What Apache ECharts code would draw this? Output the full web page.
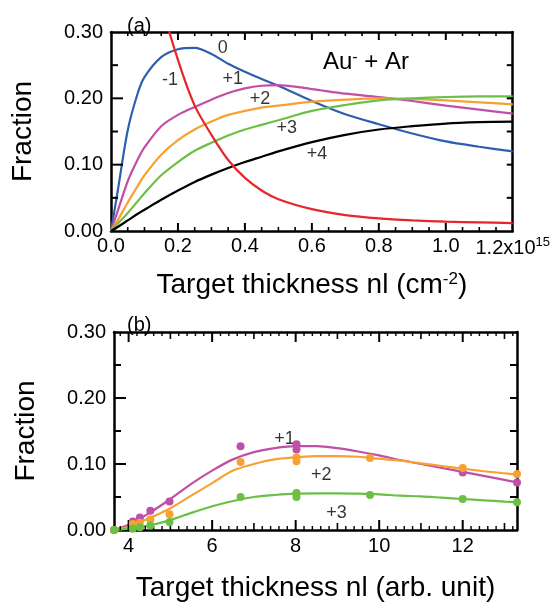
<!DOCTYPE html>
<html><head><meta charset="utf-8">
<script src="https://cdn.jsdelivr.net/npm/echarts@6/dist/echarts.min.js"></script>
<style>html,body{margin:0;padding:0;background:#fff}#c{width:553px;height:603px}</style>
</head><body><div id="c"></div><script>
// ---------- Panel (a) data ----------
const xA = [0, 0.02, 0.05, 0.08, 0.1, 0.15, 0.2, 0.25, 0.3, 0.35, 0.4, 0.45, 0.5, 0.6, 0.7, 0.8, 0.9, 1.0, 1.1, 1.2];
const aMinus1 = [0.87, 0.77, 0.64, 0.53, 0.47, 0.345, 0.258, 0.189, 0.145, 0.107, 0.080, 0.061, 0.048, 0.033, 0.024, 0.019, 0.016, 0.014, 0.013, 0.012];
const aZero   = [0, 0.06, 0.152, 0.208, 0.232, 0.262, 0.274, 0.276, 0.267, 0.252, 0.240, 0.229, 0.219, 0.196, 0.176, 0.161, 0.147, 0.135, 0.127, 0.120];
const aPlus1  = [0, 0.03, 0.075, 0.108, 0.126, 0.158, 0.175, 0.187, 0.198, 0.208, 0.215, 0.219, 0.220, 0.214, 0.207, 0.202, 0.196, 0.189, 0.183, 0.177];
const aPlus2  = [0, 0.016, 0.043, 0.068, 0.084, 0.115, 0.137, 0.153, 0.165, 0.175, 0.181, 0.186, 0.189, 0.195, 0.198, 0.200, 0.199, 0.197, 0.194, 0.191];
const aPlus3  = [0, 0.011, 0.027, 0.045, 0.057, 0.084, 0.104, 0.121, 0.133, 0.144, 0.153, 0.160, 0.167, 0.181, 0.190, 0.197, 0.200, 0.202, 0.203, 0.203];
const aPlus4  = [0, 0.006, 0.016, 0.026, 0.032, 0.047, 0.061, 0.074, 0.085, 0.095, 0.104, 0.112, 0.120, 0.134, 0.145, 0.153, 0.158, 0.162, 0.164, 0.165];
const aLabels = [
  {name: '0',  x: 0.334, y: 0.276},
  {name: '-1', x: 0.176, y: 0.228},
  {name: '+1', x: 0.364, y: 0.229},
  {name: '+2', x: 0.445, y: 0.199},
  {name: '+3', x: 0.525, y: 0.155},
  {name: '+4', x: 0.615, y: 0.116}
];
const aXMajor = [0.2, 0.4, 0.6, 0.8, 1.0];
const aXMinor = [0.05, 0.1, 0.15, 0.25, 0.3, 0.35, 0.45, 0.5, 0.55, 0.65, 0.7, 0.75, 0.85, 0.9, 0.95, 1.05, 1.1, 1.15];
const yMajor = [0.1, 0.2];
const yMinor = [0.05, 0.15, 0.25];

// ---------- Panel (b) data ----------
const xB = [3.65, 4, 4.5, 5, 5.5, 6, 6.5, 7, 7.5, 8, 8.5, 9, 9.5, 10, 10.5, 11, 11.5, 12, 12.5, 13, 13.3];
const bFit1 = [0, 0.008, 0.026, 0.047, 0.070, 0.090, 0.107, 0.118, 0.124, 0.127, 0.127, 0.124, 0.119, 0.113, 0.106, 0.100, 0.094, 0.088, 0.082, 0.076, 0.072];
const bFit2 = [0, 0.005, 0.018, 0.033, 0.052, 0.071, 0.090, 0.100, 0.107, 0.110, 0.112, 0.112, 0.111, 0.108, 0.105, 0.101, 0.097, 0.093, 0.089, 0.086, 0.084];
const bFit3 = [0, 0.002, 0.007, 0.015, 0.026, 0.036, 0.044, 0.050, 0.053, 0.055, 0.0555, 0.0555, 0.055, 0.054, 0.052, 0.051, 0.049, 0.047, 0.045, 0.043, 0.042];
const bPtsX1 = [3.65, 4.1, 4.27, 4.52, 4.98, 6.68, 8.02, 8.02, 12.0, 13.3];
const bPts1  = [0, 0.013, 0.019, 0.029, 0.043, 0.127, 0.130, 0.122, 0.087, 0.072];
const bPtsX2 = [3.65, 4.1, 4.27, 4.52, 4.98, 6.68, 8.02, 8.02, 9.78, 12.0, 13.3];
const bPts2  = [0, 0.009, 0.011, 0.016, 0.024, 0.103, 0.110, 0.104, 0.109, 0.094, 0.085];
const bPtsX3 = [3.65, 4.1, 4.27, 4.52, 4.98, 6.68, 8.02, 8.02, 9.78, 12.0, 13.3];
const bPts3  = [0, 0.002, 0.004, 0.007, 0.012, 0.050, 0.056, 0.050, 0.053, 0.047, 0.042];
const bLabels = [
  {name: '+1', x: 7.73, y: 0.138},
  {name: '+2', x: 8.61, y: 0.083},
  {name: '+3', x: 8.98, y: 0.025}
];
const bXMajor = [4, 6, 8, 10, 12];
const bXMedium = [5, 7, 9, 11, 13];
const bXMin = 3.65, bXMax = 13.3;
const bXMinor = [];
for (let k = 19; k <= 66; k++) { if (k % 5 !== 0) bXMinor.push(k / 5); }

// ---------- Styles ----------
const F = "'Liberation Sans', Arial, sans-serif";
const C = {red: '#e5262b', blue: '#2e5fae', mag: '#c04fa8', org: '#f7a132', grn: '#6cbf45', blk: '#000000'};
const axLine = () => ({show: true, onZero: false, lineStyle: {color: '#000', width: 2.5}});
const off = () => ({show: false});
const GA = {left: 111, top: 32, width: 402, height: 199};
const GB = {left: 114, top: 332, width: 403, height: 198};

function pairs(xs, ys) { return xs.map((x, i) => [x, ys[i]]); }

const xAxes = [
  {gridIndex: 0, type: 'value', position: 'bottom', min: 0, max: 1.2, interval: 0.2,
   axisLine: axLine(), axisTick: off(), splitLine: off(),
   axisLabel: {show: true, margin: 5, fontSize: 20, fontFamily: F, color: '#000',
     formatter: v => Math.abs(v - 1.2) < 1e-6 ? '{m|1.2x10}{s|15}' : v.toFixed(1),
     rich: {m: {fontSize: 20, fontFamily: F, color: '#000', lineHeight: 24}, s: {fontSize: 13, fontFamily: F, color: '#000', verticalAlign: 'top', lineHeight: 14}}},
   name: 'Target thickness nl (cm{s|-2})', nameLocation: 'middle', nameGap: 40,
   nameTextStyle: {fontSize: 28, fontFamily: F, color: '#000',
     rich: {s: {fontSize: 17, fontFamily: F, color: '#000', verticalAlign: 'top'}}}},
  {gridIndex: 0, type: 'value', position: 'top', min: 0, max: 1.2, interval: 0.2,
   axisLine: axLine(), axisTick: off(), splitLine: off(), axisLabel: off()},
  {gridIndex: 1, type: 'value', position: 'bottom', min: bXMin, max: bXMax,
   axisLine: axLine(), axisTick: off(), splitLine: off(),
   axisLabel: {show: true, customValues: bXMajor, margin: 6, fontSize: 20, fontFamily: F, color: '#000'},
   name: 'Target thickness nl (arb. unit)', nameLocation: 'middle', nameGap: 44,
   nameTextStyle: {fontSize: 28, fontFamily: F, color: '#000'}},
  {gridIndex: 1, type: 'value', position: 'top', min: bXMin, max: bXMax,
   axisLine: axLine(), axisTick: off(), splitLine: off(), axisLabel: off()}
];

function yPair(g) {
  return [
    {gridIndex: g, type: 'value', position: 'left', min: 0, max: 0.3, interval: 0.1,
     axisLine: axLine(), axisTick: off(), splitLine: off(),
     axisLabel: {show: true, margin: 8, fontSize: 20, fontFamily: F, color: '#000', formatter: v => v.toFixed(2)},
     name: 'Fraction', nameLocation: 'middle', nameGap: 74,
     nameTextStyle: {fontSize: 28, fontFamily: F, color: '#000'}},
    {gridIndex: g, type: 'value', position: 'right', min: 0, max: 0.3, interval: 0.1,
     axisLine: axLine(), axisTick: off(), splitLine: off(), axisLabel: off()}
  ];
}
const yAxes = yPair(0).concat(yPair(1));

// Tick marks: short two-point line series placed at the tick values on each axis.
function tickLines(vals, dir, lenA, lenB, w, ai, r, g) {
  const px = (r.x1 - r.x0) / g.width, py = (r.y1 - r.y0) / g.height;
  const out = [];
  vals.forEach(v => {
    const segs = dir === 'x'
      ? [[[v, r.y0], [v, r.y0 + lenA * py]], [[v, r.y1], [v, r.y1 - lenB * py]]]
      : [[[r.x0, v], [r.x0 + lenA * px, v]], [[r.x1, v], [r.x1 - lenB * px, v]]];
    segs.forEach(s => out.push({type: 'line', data: s, xAxisIndex: ai, yAxisIndex: ai,
      symbol: 'none', showSymbol: false, clip: false, silent: true, z: 5, smooth: false,
      lineStyle: {color: '#000', width: w}, itemStyle: {color: '#000'}}));
  });
  return out;
}
const rangeA = {x0: 0, x1: 1.2, y0: 0, y1: 0.3};
const rangeB = {x0: bXMin, x1: bXMax, y0: 0, y1: 0.3};

function curve(name, xs, ys, color, ai, w) {
  return {type: 'line', name, data: pairs(xs, ys), xAxisIndex: ai, yAxisIndex: ai,
    smooth: 0.3, symbol: 'none', clip: true,
    lineStyle: {color, width: w || 2.2}, itemStyle: {color}, silent: true};
}
function dots(name, xs, ys, color) {
  return {type: 'scatter', name, data: pairs(xs, ys), xAxisIndex: 2, yAxisIndex: 2,
    symbol: 'circle', symbolSize: 8, itemStyle: {color, opacity: 1}, silent: true, clip: false, z: 6};
}
function labels(list, ai, fs) {
  return {type: 'scatter', data: list.map(l => ({value: [l.x, l.y], name: l.name})),
    xAxisIndex: ai, yAxisIndex: ai, symbolSize: 1, itemStyle: {color: 'rgba(0,0,0,0)'}, silent: true,
    label: {show: true, position: 'inside', formatter: '{b}', fontSize: fs, fontFamily: F, color: '#000'}};
}

const series = [
  curve('0', xA, aZero, C.blue, 0),
  curve('+1', xA, aPlus1, C.mag, 0),
  curve('+2', xA, aPlus2, C.org, 0),
  curve('+3', xA, aPlus3, C.grn, 0),
  curve('+4', xA, aPlus4, C.blk, 0),
  curve('-1', xA, aMinus1, C.red, 0),
  labels(aLabels, 0, 18),
  curve('fit +1', xB, bFit1, C.mag, 2),
  curve('fit +2', xB, bFit2, C.org, 2),
  curve('fit +3', xB, bFit3, C.grn, 2),
  dots('+1', bPtsX1, bPts1, C.mag),
  dots('+2', bPtsX2, bPts2, C.org),
  dots('+3', bPtsX3, bPts3, C.grn),
  labels(bLabels, 2, 18)
].concat(
  tickLines(aXMajor, 'x', 8, 8, 2, 0, rangeA, GA),
  tickLines(aXMinor, 'x', 4, 4, 1.6, 0, rangeA, GA),
  tickLines(yMajor, 'y', 12, 6, 2, 0, rangeA, GA),
  tickLines(yMinor, 'y', 7, 6, 2, 0, rangeA, GA),
  tickLines(bXMajor, 'x', 10, 10, 2, 2, rangeB, GB),
  tickLines(bXMedium, 'x', 7, 7, 1.6, 2, rangeB, GB),
  tickLines(bXMinor, 'x', 4, 4, 1.4, 2, rangeB, GB),
  tickLines(yMajor, 'y', 12, 7, 2, 2, rangeB, GB),
  tickLines(yMinor, 'y', 7, 7, 2, 2, rangeB, GB)
);

const option = {
  animation: false,
  title: [
    {text: '(a)', left: 122, top: 11, textStyle: {fontSize: 20, fontWeight: 'normal', fontFamily: F, color: '#000'}},
    {text: '(b)', left: 122, top: 310, textStyle: {fontSize: 20, fontWeight: 'normal', fontFamily: F, color: '#000'}},
    {text: 'Au{s|-} + Ar', left: 318, top: 45,
     textStyle: {fontSize: 24, fontWeight: 'normal', fontFamily: F, color: '#000',
       rich: {s: {fontSize: 16, fontFamily: F, color: '#000', verticalAlign: 'top'}}}}
  ],
  grid: [GA, GB],
  xAxis: xAxes,
  yAxis: yAxes,
  series: series
};
const chart = echarts.init(document.getElementById('c'));
chart.setOption(option);
</script></body></html>
